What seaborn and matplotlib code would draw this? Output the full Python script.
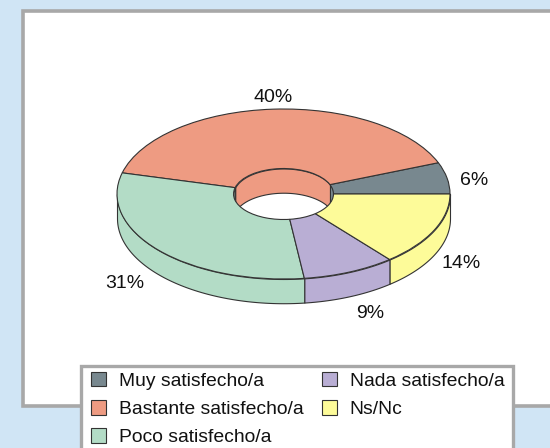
import numpy as np
import matplotlib
matplotlib.use('Agg')
import matplotlib.pyplot as plt
from matplotlib.patches import Rectangle, Ellipse
import seaborn as sns

labels = ['Muy satisfecho/a', 'Bastante satisfecho/a', 'Poco satisfecho/a', 'Nada satisfecho/a', 'Ns/Nc']
values = [6, 40, 31, 9, 14]
colors = sns.color_palette(['#78888f', '#ee9b82', '#b3dcc6', '#b9aed4', '#fdfb99'])

W, H = 550, 448
EDGE = '#333333'
INNER = 0.3
DEPTH = 0.285

sns.set_style('white')
plt.rcParams['font.family'] = ['Liberation Sans', 'DejaVu Sans']

fig = plt.figure(figsize=(W / 100, H / 100), dpi=100, facecolor='#d0e5f5')

# white panel, runs off the right edge
fig.add_artist(Rectangle((23 / W, 1 - 406 / H), 600 / W, 394.5 / H, transform=fig.transFigure,
                         facecolor='white', edgecolor='#a8a8a8', lw=2.6, zorder=-1))

# axes covers exactly the top ellipse, so radius 1 is the rim
ax = fig.add_axes([117 / W, 1 - 279 / H, 333 / W, 170 / H])
ax.patch.set_alpha(0)

angles = np.cumsum([0] + values) / sum(values) * 360


def wall(a0, a1, r, lo, hi, color, clip=None):
    a0, a1 = max(a0, lo), min(a1, hi)
    if a1 <= a0:
        return
    t = np.radians(np.linspace(a0, a1, 80))
    art = ax.fill_between(r * np.cos(t), r * np.sin(t), r * np.sin(t) - DEPTH,
                          facecolor=color, edgecolor=EDGE, lw=0.8, clip_on=False)
    if clip is not None:
        art.set_clip_path(clip)


hole = Ellipse((0, 0), 2 * INNER, 2 * INNER, transform=ax.transData)
for i, c in enumerate(colors):
    # outer front wall, then the far side of the hole
    wall(angles[i], angles[i + 1], 1, 180, 360, c)
    wall(angles[i], angles[i + 1], INNER, 0, 180, c, clip=hole)

wedges, _ = ax.pie(values, colors=colors, startangle=0, counterclock=True, radius=1,
                   wedgeprops=dict(width=1 - INNER, edgecolor=EDGE, lw=0.8))
for w in wedges:
    w.set_clip_on(False)
ax.set_aspect('auto')
ax.set_xlim(-1, 1)
ax.set_ylim(-1, 1)
ax.axis('off')

label_px = [(474, 180), (273, 97.5), (125, 283), (370, 313), (461, 263)]
for v, (x, y) in zip(values, label_px):
    fig.text(x / W, 1 - y / H, f'{v}%', ha='center', va='center', fontsize=14, color='#111111')

# legend box is cut by the bottom of the image, so it gets its own rectangle
fig.add_artist(Rectangle((81 / W, 1 - 480 / H), 432 / W, 114 / H, transform=fig.transFigure,
                         facecolor='white', edgecolor='#a8a8a8', lw=2.4, zorder=1))
fig.legend(wedges, labels, ncols=2, loc='upper left',
           bbox_to_anchor=(91.3 / W, 1 - 371.6 / H), bbox_transform=fig.transFigure,
           fontsize=13.9, frameon=False, borderpad=0, borderaxespad=0,
           handlelength=0.78, handleheight=0.78, handletextpad=0.67,
           labelspacing=0.54, columnspacing=0.93, labelcolor='#111111')

fig.savefig('out.png', dpi=100, facecolor=fig.get_facecolor())
